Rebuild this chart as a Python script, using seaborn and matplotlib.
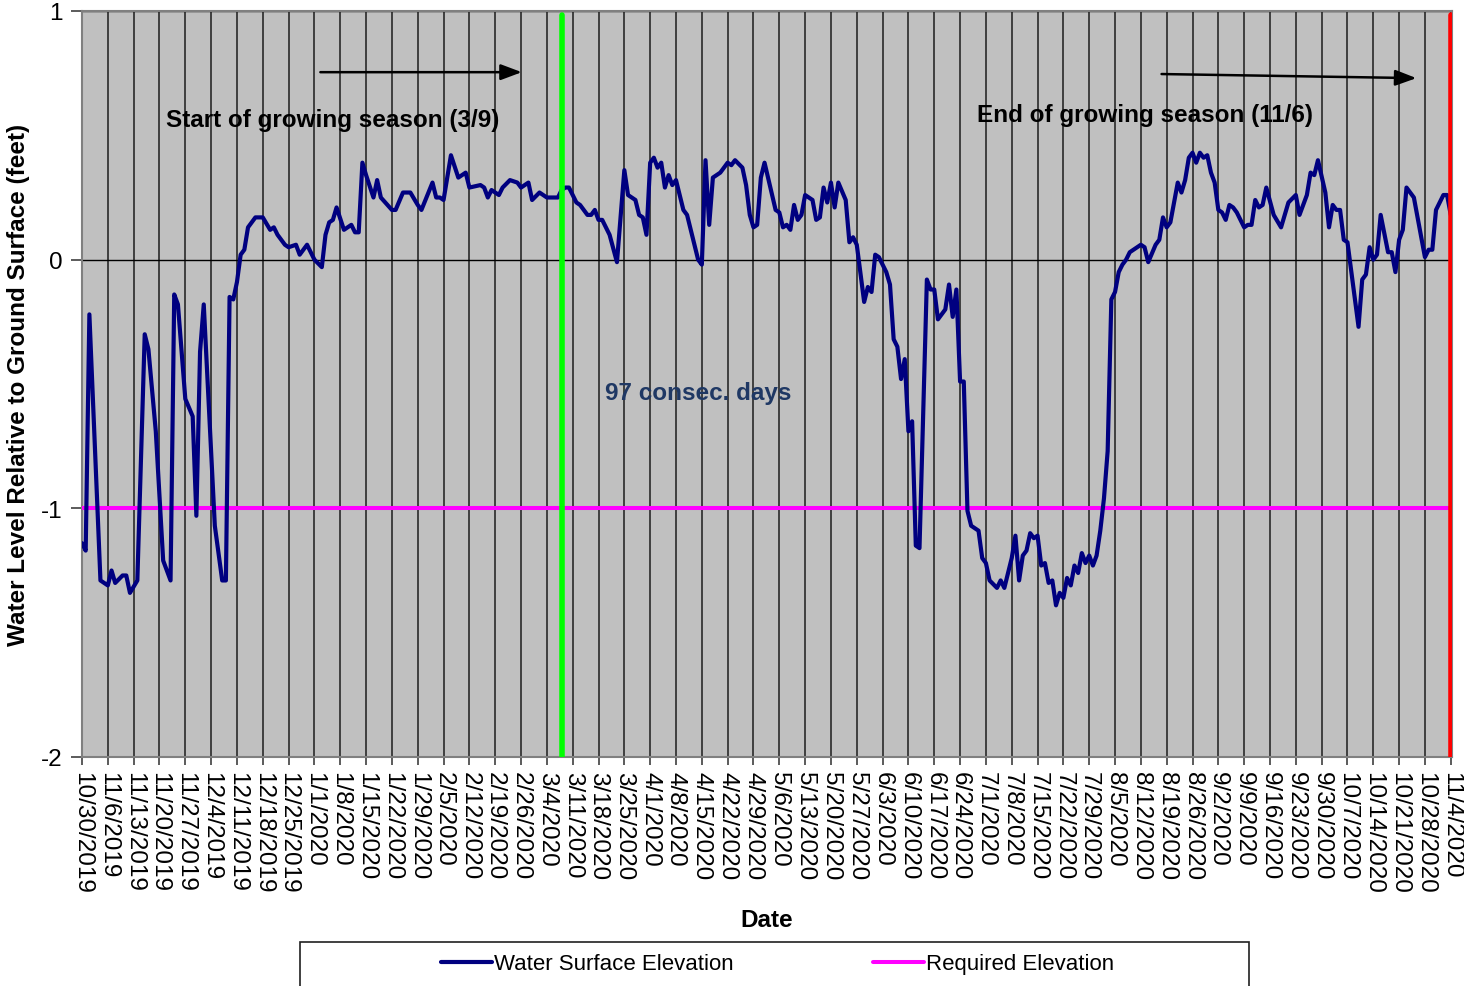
import matplotlib
matplotlib.use('Agg')
import matplotlib.pyplot as plt
from matplotlib.patches import Rectangle
import pandas as pd
import seaborn as sns

# water level readings, days counted from 10/30/2019
start = pd.Timestamp('2019-10-30')
day = [0, 1, 2, 5, 7, 8, 9, 11, 12, 13, 15, 17, 18, 20, 22, 24, 25, 26, 28, 30,
       31, 32, 33, 36, 38, 39, 40, 41, 42, 43, 44, 45, 47, 49, 51, 52, 53, 55, 56, 58,
       59, 61, 63, 65, 66, 67, 68, 69, 71, 73, 74, 75, 76, 77, 79, 80, 81, 84, 85, 87,
       89, 91, 92, 95, 96, 97, 98, 100, 102, 104, 105, 108, 109, 110, 111, 113, 114, 116, 118, 119,
       121, 122, 124, 126, 128, 129, 130, 131, 132, 134, 135, 137, 138, 139, 140, 141, 143, 145, 147, 148,
       150, 151, 152, 153, 154, 155, 156, 157, 158, 159, 160, 161, 163, 164, 167, 168, 169, 170, 171, 173,
       174, 175, 176, 177, 179, 180, 181, 182, 183, 184, 185, 188, 189, 190, 191, 192, 193, 194, 195, 196,
       198, 199, 200, 201, 202, 203, 204, 205, 207, 208, 209, 210, 212, 213, 214, 215, 216, 218, 219, 220,
       221, 222, 223, 224, 225, 226, 227, 229, 230, 231, 232, 234, 235, 236, 237, 238, 239, 240, 241, 243,
       244, 245, 246, 248, 249, 250, 252, 253, 254, 255, 256, 257, 258, 259, 260, 261, 262, 263, 264, 265,
       266, 267, 268, 269, 270, 271, 272, 273, 274, 275, 276, 277, 278, 279, 280, 281, 282, 283, 284, 286,
       287, 288, 289, 291, 292, 293, 294, 295, 297, 298, 299, 300, 301, 302, 303, 304, 305, 306, 307, 308,
       309, 310, 311, 312, 313, 315, 316, 317, 318, 319, 320, 321, 323, 325, 327, 329, 330, 332, 333, 334,
       335, 337, 338, 339, 340, 341, 342, 343, 346, 347, 348, 349, 350, 351, 352, 354, 355, 356, 357, 358,
       359, 361, 364, 365, 366, 367, 369, 370, 371]
level = [-1.14, -1.17, -0.22, -1.29, -1.31, -1.25, -1.30, -1.27, -1.27, -1.34, -1.29, -0.30, -0.36, -0.69, -1.21, -1.29, -0.14, -0.18, -0.56, -0.63,
         -1.03, -0.37, -0.18, -1.07, -1.29, -1.29, -0.15, -0.16, -0.09, 0.02, 0.04, 0.13, 0.17, 0.17, 0.12, 0.13, 0.10, 0.06, 0.05, 0.06,
         0.02, 0.06, 0.00, -0.03, 0.10, 0.15, 0.16, 0.21, 0.12, 0.14, 0.11, 0.11, 0.39, 0.34, 0.25, 0.32, 0.25, 0.20, 0.20, 0.27,
         0.27, 0.22, 0.20, 0.31, 0.25, 0.25, 0.24, 0.42, 0.33, 0.35, 0.29, 0.30, 0.29, 0.25, 0.28, 0.26, 0.29, 0.32, 0.31, 0.29,
         0.31, 0.24, 0.27, 0.25, 0.25, 0.25, 0.28, 0.29, 0.29, 0.23, 0.22, 0.18, 0.18, 0.20, 0.16, 0.16, 0.10, -0.01, 0.36, 0.26,
         0.24, 0.18, 0.17, 0.10, 0.39, 0.41, 0.37, 0.39, 0.29, 0.34, 0.30, 0.32, 0.20, 0.18, 0.00, -0.02, 0.40, 0.14, 0.33, 0.35,
         0.37, 0.39, 0.38, 0.40, 0.37, 0.30, 0.18, 0.13, 0.14, 0.33, 0.39, 0.20, 0.19, 0.13, 0.14, 0.12, 0.22, 0.16, 0.18, 0.26,
         0.24, 0.16, 0.17, 0.29, 0.23, 0.31, 0.21, 0.31, 0.24, 0.07, 0.09, 0.06, -0.17, -0.11, -0.13, 0.02, 0.01, -0.05, -0.10, -0.32,
         -0.35, -0.48, -0.40, -0.69, -0.65, -1.15, -1.16, -0.08, -0.12, -0.12, -0.24, -0.20, -0.10, -0.23, -0.12, -0.49, -0.49, -1.01, -1.07, -1.09,
         -1.20, -1.22, -1.29, -1.32, -1.29, -1.32, -1.20, -1.11, -1.29, -1.19, -1.17, -1.10, -1.12, -1.11, -1.23, -1.22, -1.30, -1.29, -1.39, -1.34,
         -1.36, -1.28, -1.31, -1.23, -1.26, -1.18, -1.22, -1.19, -1.23, -1.19, -1.09, -0.96, -0.77, -0.16, -0.13, -0.05, -0.02, 0.00, 0.03, 0.05,
         0.06, 0.05, -0.01, 0.06, 0.08, 0.17, 0.13, 0.15, 0.31, 0.27, 0.32, 0.41, 0.43, 0.39, 0.43, 0.41, 0.42, 0.35, 0.31, 0.20,
         0.19, 0.16, 0.22, 0.21, 0.19, 0.13, 0.14, 0.14, 0.24, 0.21, 0.22, 0.29, 0.18, 0.13, 0.23, 0.26, 0.18, 0.26, 0.35, 0.34,
         0.40, 0.27, 0.13, 0.22, 0.20, 0.20, 0.08, 0.07, -0.27, -0.08, -0.06, 0.05, 0.00, 0.02, 0.18, 0.03, 0.03, -0.05, 0.08, 0.12,
         0.29, 0.25, 0.01, 0.04, 0.04, 0.20, 0.26, 0.26, 0.18]
required = -1.0
season_start = pd.Timestamp('2020-03-08')
season_end = pd.Timestamp('2020-11-04')
end = pd.Timestamp('2020-11-04 08:00')

df = pd.DataFrame({'Date': start + pd.to_timedelta(day, unit='D'), 'Level': level})

sns.set_style('ticks', {'axes.facecolor': '#c0c0c0', 'text.color': 'black',
                        'xtick.color': 'black', 'ytick.color': 'black',
                        'axes.labelcolor': 'black'})
plt.rcParams['font.family'] = ['Liberation Sans', 'DejaVu Sans']

fig = plt.figure(figsize=(14.64, 9.87), dpi=100)
ax = fig.add_axes([82/1464, 1 - 758/987, (1452 - 82)/1464, (758 - 12)/987])

sns.lineplot(data=df, x='Date', y='Level', ax=ax, color='#000080', lw=3.0, zorder=4,
             label='Water Surface Elevation', legend=False)
ax.axhline(required, color='#ff00ff', lw=2.9, zorder=3, label='Required Elevation')
ax.axvline(season_start, color='#00ff00', lw=4, zorder=5, ymax=0.995)
ax.axvline(season_end, color='#ff0000', lw=4, zorder=5, ymax=0.995)

ticks = pd.date_range(start, season_end, freq='7D')
ax.set_xticks(ticks)
ax.set_xticklabels([f'{d.month}/{d.day}/{d.year}' for d in ticks], rotation=-90,
                   ha='center', va='top', fontsize=17.5)
ax.set_xlim(start, end)
ax.set_ylim(-2, 1)
ax.set_yticks([1, 0, -1, -2])
ax.set_yticklabels(['1', '0', '-1', '-2'], fontsize=17.5)
ax.tick_params(axis='x', direction='out', length=6, width=1.2, color='#404040', pad=4)
ax.tick_params(axis='y', direction='out', length=8, width=1.2, color='#404040', pad=6)
ax.grid(True, axis='x', color='black', lw=1.1, alpha=0.85)
ax.grid(True, axis='y', color='black', lw=1)
for s in ax.spines.values():
    s.set_color('#808080')
    s.set_linewidth(1.5)

ax.set_xlabel('Date', fontsize=17.5, fontweight='bold', labelpad=11)
ax.set_ylabel('Water Level Relative to Ground Surface (feet)', fontsize=17.5,
              fontweight='bold', labelpad=8)

arrow = dict(arrowstyle='-|>,head_length=0.8,head_width=0.3', color='black', lw=1.8,
             mutation_scale=16, shrinkA=0, shrinkB=0)
ax.annotate('', xy=(0.321, 0.918), xytext=(0.174, 0.918), xycoords='axes fraction',
            arrowprops=arrow)
ax.annotate('', xy=(0.974, 0.910), xytext=(0.788, 0.9155), xycoords='axes fraction',
            arrowprops=arrow)
ax.text(0.183, 0.854, 'Start of growing season (3/9)', transform=ax.transAxes,
        ha='center', va='center', fontsize=17.5, fontweight='bold', color='black')
ax.text(0.776, 0.861, 'End of growing season (11/6)', transform=ax.transAxes,
        ha='center', va='center', fontsize=17.5, fontweight='bold', color='black')
ax.text(0.4496, 0.489, '97 consec. days', transform=ax.transAxes, ha='center',
        va='center', fontsize=17.5, fontweight='bold', color='#1f3864')

h, l = ax.get_legend_handles_labels()
fig.legend(h, l, loc='center', bbox_to_anchor=(0.531, 1 - 965/987), ncol=2,
           frameon=False, handlelength=2.3, handletextpad=0.08,
           columnspacing=6.3, prop={'family': ['Liberation Sans', 'DejaVu Sans'], 'size': 16})
fig.patches.append(Rectangle((300/1464, -0.1), 949/1464, 0.1 + 1 - 943/987,
                             transform=fig.transFigure, fill=False, edgecolor='#202020',
                             lw=1.2))

fig.savefig('out.png', dpi=100)
